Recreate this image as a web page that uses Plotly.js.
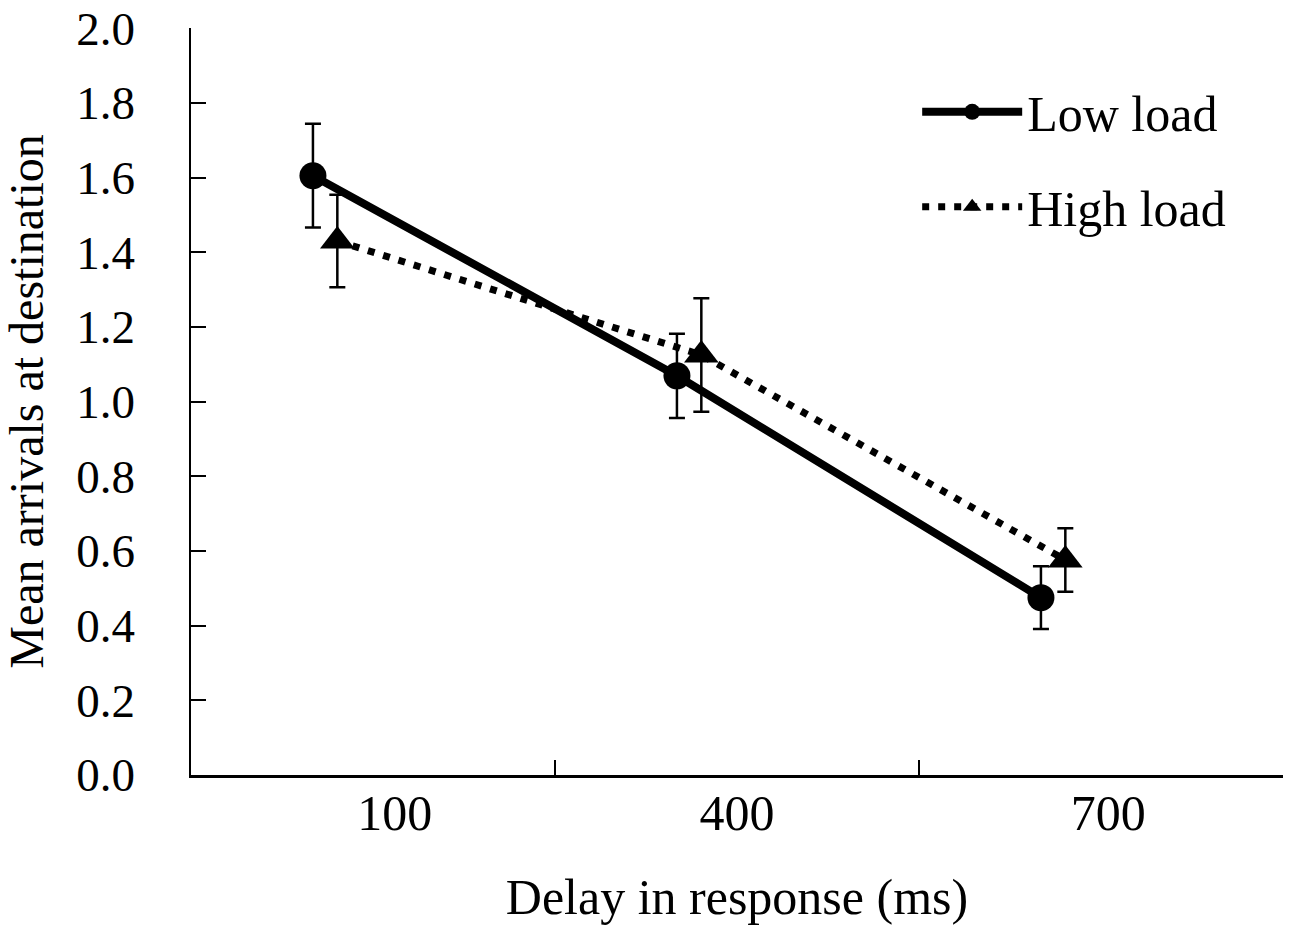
<!DOCTYPE html>
<html>
<head>
<meta charset="utf-8">
<script src="https://cdn.plot.ly/plotly-3.0.1.min.js"></script>
<style>html,body{margin:0;padding:0;background:#fff;}#chart{width:1293px;height:931px;}</style>
</head>
<body>
<div id="chart"></div>
<script>
// ---- data ----
var categories = ['100', '400', '700'];
var seriesNames = ['Low load', 'High load'];
var lowLoad = [1.605, 1.069, 0.475];
var lowLoadErr = [0.139, 0.113, 0.084];
var highLoad = [1.430, 1.125, 0.576];
var highLoadErr = [0.124, 0.152, 0.085];
var yTicks = [0, 0.2, 0.4, 0.6, 0.8, 1.0, 1.2, 1.4, 1.6, 1.8, 2.0];

// ---- styling constants ----
var FONT = 'Liberation Serif, Times New Roman, serif';
var FS = 50;
var lowOffset = -0.165, highOffset = -0.098;        // within-category shift of each series
var labelShift = [0.06, 0.0, 0.02];                  // label placement within each category

var idx = categories.map(function (c, i) { return i + 0.5; });

var traceLow = {
  x: idx.map(function (v) { return v + lowOffset; }),
  y: lowLoad,
  name: seriesNames[0],
  legendgroup: 'a',
  mode: 'lines+markers',
  line: {color: '#000', width: 8},
  marker: {symbol: 'circle', size: 27, color: '#000'},
  error_y: {type: 'data', array: lowLoadErr, visible: true, color: '#000', thickness: 2.5, width: 8},
  xaxis: 'x', yaxis: 'y'
};
var traceHigh = {
  x: idx.map(function (v) { return v + highOffset; }),
  y: highLoad,
  name: seriesNames[1],
  legendgroup: 'b',
  mode: 'lines+markers',
  line: {color: '#000', width: 7, dash: '7px,9px'},
  marker: {symbol: 'triangle-up', size: 30, color: '#000'},
  error_y: {type: 'data', array: highLoadErr, visible: true, color: '#000', thickness: 2.5, width: 8},
  xaxis: 'x', yaxis: 'y'
};
var tickHelper = {
  x: [0, categories.length], y: [null, null], mode: 'lines', showlegend: false,
  hoverinfo: 'skip', xaxis: 'x2', yaxis: 'y'
};

var layout = {
  width: 1293, height: 931,
  paper_bgcolor: '#fff', plot_bgcolor: '#fff',
  margin: {l: 191, r: 10, t: 28, b: 156},
  font: {family: FONT, size: FS, color: '#000'},
  showlegend: true,
  legend: {
    x: 0.665, y: 0.94, xanchor: 'left', yanchor: 'top',
    font: {family: FONT, size: FS, color: '#000'},
    itemwidth: 100, tracegroupgap: 27, traceorder: 'grouped',
    bgcolor: 'rgba(0,0,0,0)'
  },
  xaxis: {
    range: [0, categories.length],
    showline: true, linecolor: '#000', linewidth: 2.5,
    showgrid: false, zeroline: false,
    ticks: '',
    tickmode: 'array',
    tickvals: idx.map(function (v, i) { return v + labelShift[i]; }),
    ticktext: categories,
    tickfont: {family: FONT, size: FS, color: '#000'},
    ticklabelstandoff: -8,
    title: {text: 'Delay in response (ms)', font: {family: FONT, size: FS, color: '#000'}, standoff: 40},
    automargin: false,
    fixedrange: true
  },
  xaxis2: {
    overlaying: 'x', anchor: 'y', side: 'bottom',
    range: [0, categories.length],
    showline: false, showgrid: false, zeroline: false,
    ticks: 'inside', ticklen: 15, tickwidth: 2, tickcolor: '#000',
    tickmode: 'array', tickvals: categories.map(function (c, i) { return i + 1; }),
    showticklabels: false,
    fixedrange: true
  },
  yaxis: {
    range: [0, 2.0005],
    showline: true, linecolor: '#000', linewidth: 2.5,
    showgrid: false, zeroline: false,
    ticks: 'inside', ticklen: 15, tickwidth: 2, tickcolor: '#000',
    tickmode: 'array', tickvals: yTicks,
    ticktext: yTicks.map(function (v) { return v.toFixed(1); }),
    tickfont: {family: FONT, size: 47, color: '#000'},
    ticklabelstandoff: 44,
    ticklabeloverflow: 'allow',
    title: {text: 'Mean arrivals at destination', font: {family: FONT, size: 48, color: '#000'}, standoff: 36},
    automargin: false,
    fixedrange: true
  }
};

Plotly.newPlot('chart', [traceLow, traceHigh, tickHelper], layout, {displayModeBar: false, staticPlot: true});
</script>
</body>
</html>
